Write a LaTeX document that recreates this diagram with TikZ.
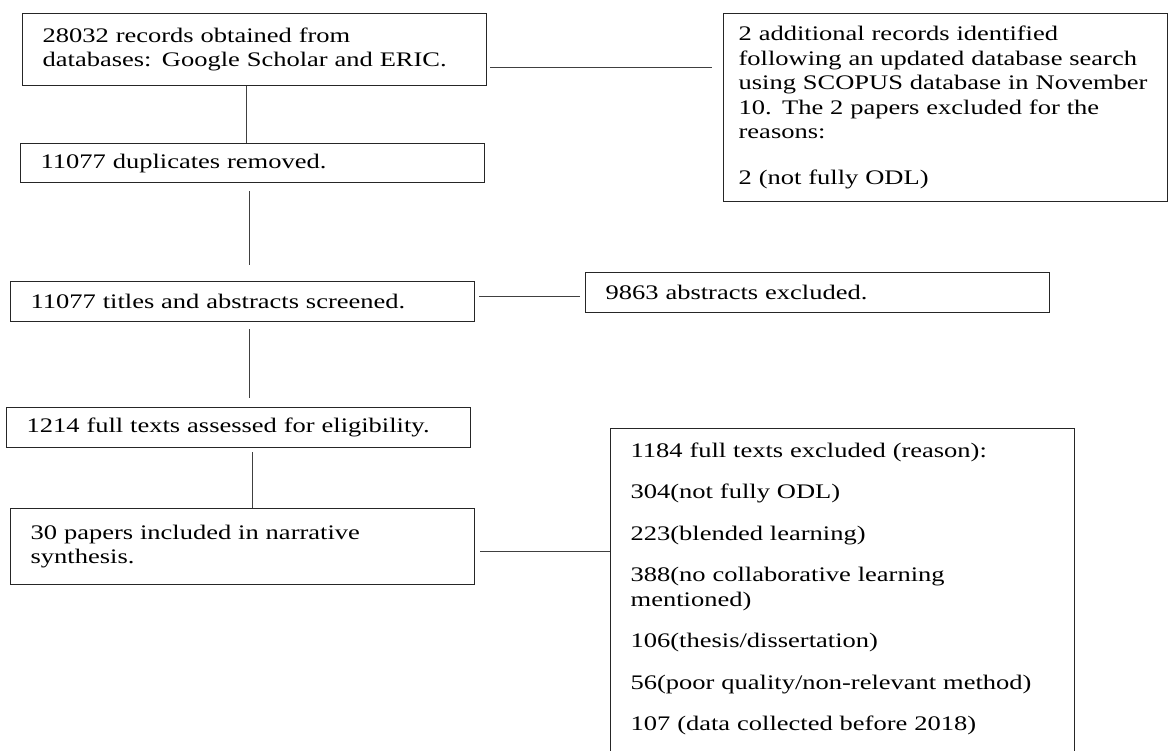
\documentclass[tikz,border=0pt]{standalone}
\usepackage{fontspec}
\setmainfont{Liberation Serif}[FakeStretch=1.28]
\usetikzlibrary{positioning}
\usetikzlibrary{calc}

\tikzset{
  box/.style={draw=black!85, line width=1.3pt, anchor=north west, align=left,
    inner xsep=20pt, inner ysep=0pt, text width=424pt, minimum height=40pt,
    font=\fontsize{20.7}{24.5}\selectfont},
  link/.style={draw=black!75, line width=1pt}
}

\begin{document}
\begin{tikzpicture}[x=1pt, y=-1pt]
\useasboundingbox (0,0) rectangle (1173,751);
\clip (0,0) rectangle (1173,751);

% left column
\node[box, minimum height=72pt] (records) at (22,13) {28032 records obtained from\\databases: Google Scholar and ERIC.};
\node[box, minimum height=39pt] (dupes) at (20,143) {11077 duplicates removed.};
\node[box] (screened) at (10,281) {11077 titles and abstracts screened.};
\node[box] (fulltext) at (6,407) {1214 full texts assessed for eligibility.};
\node[box, minimum height=76pt] (included) at (10,508) {30 papers included in narrative\\synthesis.};

% right column
\node[box, text width=414pt, inner xsep=15pt, minimum height=188pt] (scopus) at (723,13) {2 additional records identified\\following an updated database search\\using SCOPUS database in November\\10. The 2 papers excluded for the\\reasons:\\[21pt]2 (not fully ODL)};
\node[box] (abstracts) at (585,272) {9863 abstracts excluded.};
  % runs off the page at the bottom
\node[box, minimum height=358pt] (excluded) at (610,428) {1184 full texts excluded (reason):\\[17pt]304(not fully ODL)\\[17pt]223(blended learning)\\[17pt]388(no collaborative learning\\mentioned)\\[17pt]106(thesis/dissertation)\\[17pt]56(poor quality/non-relevant method)\\[17pt]107 (data collected before 2018)\\[17pt]\mbox{}};

% vertical
\draw[link] ($(records.south)+(-8,0)$) -- ($(records.south |- dupes.north)+(-8,0)$);
\draw[link] ($(dupes.south)+(-3.5,8)$) -- ($(dupes.south |- screened.north)+(-3.5,-16)$);
\draw[link] ($(screened.south)+(7,7)$) -- ($(screened.south |- fulltext.north)+(7,-9)$);
\draw[link] ($(fulltext.south)+(14,4)$) -- ($(fulltext.south |- included.north)+(14,0)$);

% horizontal
\draw[link] ($(records.east)+(3,18)$) -- ($(records.east -| scopus.west)+(-11,18)$);
\draw[link] ($(screened.east)+(4,-5)$) -- ($(screened.east -| abstracts.west)+(-5,-5)$);
\draw[link] ($(included.east)+(5,5)$) -- ($(included.east -| excluded.west)+(0,5)$);

\end{tikzpicture}
\end{document}
